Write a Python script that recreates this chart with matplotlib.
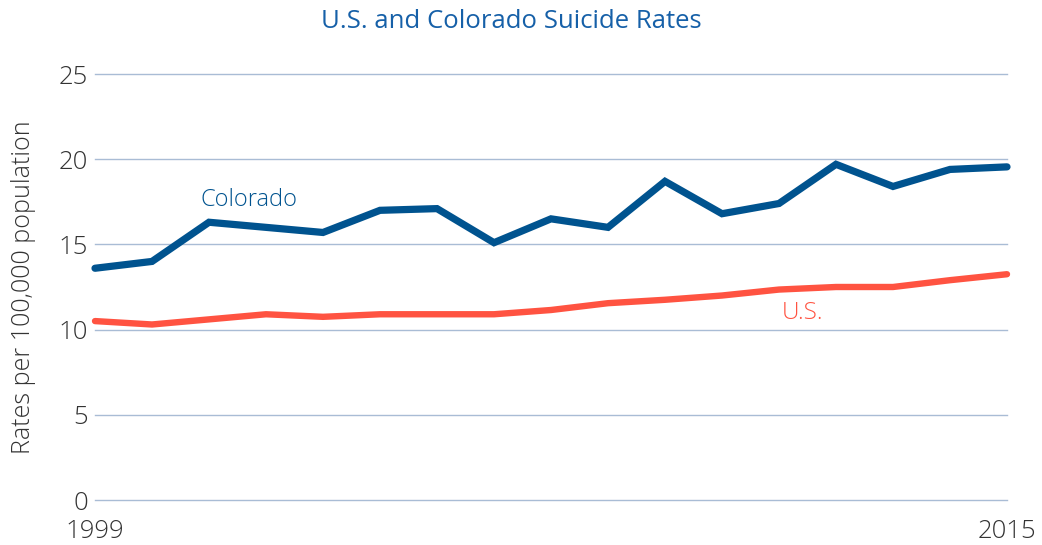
import matplotlib
matplotlib.use("Agg")
import matplotlib.pyplot as plt

years = list(range(1999, 2016))
colorado = [13.6, 14.0, 16.3, 16.0, 15.7, 17.0, 17.1, 15.1, 16.5, 16.0, 18.7, 16.8, 17.4, 19.7, 18.4, 19.4, 19.55]
us = [10.5, 10.3, 10.6, 10.9, 10.75, 10.9, 10.9, 10.9, 11.15, 11.55, 11.75, 12.0, 12.35, 12.5, 12.5, 12.9, 13.25]
yticks = [0, 5, 10, 15, 20, 25]
xticks = [1999, 2015]

plt.rcParams['font.family'] = ['Open Sans', 'DejaVu Sans']

fig = plt.figure(figsize=(10.42, 5.45), dpi=100)
ax = fig.add_axes([95/1042, 1-500/545, (1007-95)/1042, (500-74)/545])

blue = '#00538f'
red = '#ff5341'
ax.plot(years, colorado, color=blue, lw=5.2, solid_capstyle='round', solid_joinstyle='miter', clip_on=False, zorder=3)
ax.plot(years, us, color=red, lw=4.6, solid_capstyle='round', solid_joinstyle='miter', clip_on=False, zorder=3)

ax.set_xlim(1999, 2015)
ax.set_ylim(0, 25)
ax.set_yticks(yticks)
ax.set_xticks(xticks)
ax.grid(axis='y', color='#a9bcd5', lw=1)
for gl in ax.get_ygridlines():
    gl.set_clip_on(False)
ax.set_axisbelow(True)
for s in ax.spines.values():
    s.set_visible(False)
ax.tick_params(axis='both', length=0, labelsize=18.5, labelcolor='#333333')
for lab in ax.get_xticklabels() + ax.get_yticklabels():
    lab.set_fontweight('light')
ax.tick_params(axis='y', pad=5)
ax.tick_params(axis='x', pad=14)

ax.set_ylabel('Rates per 100,000 population', fontsize=18, color='#333333', labelpad=16, fontweight='light')
ax.text(2000.85, 17.6, 'Colorado', color=blue, fontsize=17, ha='left', va='center', fontweight='light')
ax.text(2011.05, 11.0, 'U.S.', color=red, fontsize=17.5, ha='left', va='center', fontweight='light')

fig.text(511/1042, 1-22/545, 'U.S. and Colorado Suicide Rates', color='#1660a8', fontsize=18.5, ha='center', va='center')

fig.savefig('out.png', dpi=100)
